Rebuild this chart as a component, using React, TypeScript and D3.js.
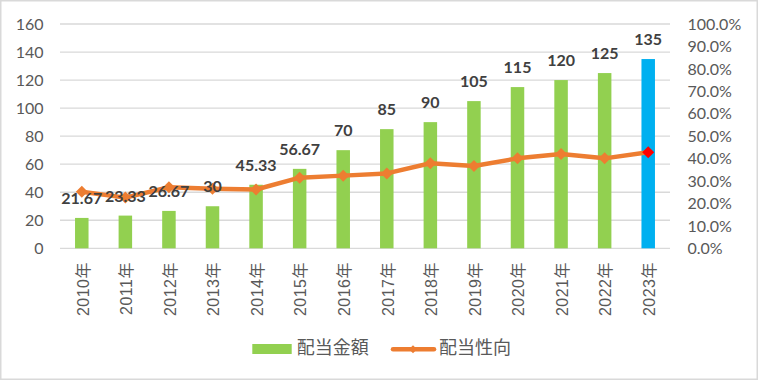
import React from "react";
import * as d3 from "d3";

const years = ["2010年","2011年","2012年","2013年","2014年","2015年","2016年","2017年","2018年","2019年","2020年","2021年","2022年","2023年"];
const amounts = [21.67, 23.33, 26.67, 30, 45.33, 56.67, 70, 85, 90, 105, 115, 120, 125, 135];
const amountLabels = ["21.67","23.33","26.67","30","45.33","56.67","70","85","90","105","115","120","125","135"];
const payout = [0.252, 0.226, 0.272, 0.265, 0.262, 0.315, 0.324, 0.334, 0.379, 0.367, 0.401, 0.420, 0.401, 0.428];
const leftTicks = [0, 20, 40, 60, 80, 100, 120, 140, 160];
const rightTicks = [0, 0.1, 0.2, 0.3, 0.4, 0.5, 0.6, 0.7, 0.8, 0.9, 1.0];
const seriesNames = ["配当金額", "配当性向"];

const W = 758, H = 380;
const plotL = 60, plotR = 670, plotT = 24, plotB = 248.3;
const green = "#92D050", blue = "#00B0F0", orange = "#ED7D31", red = "#FF0000";
const numFont = "Lato, 'Open Sans', sans-serif";
const cjkFont = "'Liberation Sans', 'Noto Sans CJK JP', sans-serif";

export default function App() {
  const x = d3.scalePoint<string>().domain(years).range([plotL, plotR]).padding(0.5);
  const yL = d3.scaleLinear().domain([0, 160]).range([plotB, plotT]);
  const yR = d3.scaleLinear().domain([0, 1]).range([plotB, plotT]);
  const barW = 13.5;
  const line = d3.line<number>().x((_, i) => x(years[i])!).y((d) => yR(d));
  const pctFmt = d3.format(".1%");
  const diamond = (cx: number, cy: number, r: number) =>
    `M${cx},${cy - r}L${cx + r},${cy}L${cx},${cy + r}L${cx - r},${cy}Z`;

  return (
    <svg width={W} height={H} style={{ position: "absolute", left: 0, top: 0, background: "#fff" }}>
      <rect x={0.75} y={0.75} width={W - 1.5} height={H - 1.5} fill="#fff" stroke="#D9D9D9" strokeWidth={1.5} />
      {leftTicks.map((t) => (
        <line key={"g" + t} x1={plotL} x2={plotR} y1={yL(t)} y2={yL(t)} stroke="#D9D9D9" strokeWidth={1.3} />
      ))}
      {leftTicks.map((t) => (
        <text key={"l" + t} x={43.5} y={yL(t)} dy="0.36em" textAnchor="end" fontFamily={numFont} fontSize={16} fill="#595959">
          {t}
        </text>
      ))}
      {rightTicks.map((t) => (
        <text key={"r" + t} x={687.5} y={yR(t)} dy="0.36em" textAnchor="start" fontFamily={numFont} fontSize={16} fill="#595959">
          {pctFmt(t)}
        </text>
      ))}
      {amounts.map((v, i) => (
        <rect key={"b" + i} x={x(years[i])! - barW / 2} y={yL(v)} width={barW} height={plotB - yL(v)}
          fill={i === amounts.length - 1 ? blue : green} />
      ))}
      <path d={line(payout) || ""} fill="none" stroke={orange} strokeWidth={4.5} strokeLinejoin="round" />
      {payout.map((v, i) => (
        <path key={"m" + i} d={diamond(x(years[i])!, yR(v), 6)} fill={i === payout.length - 1 ? red : orange} />
      ))}
      {amounts.map((v, i) => (
        <text key={"dl" + i} x={x(years[i])!} y={yL(v) - 14} textAnchor="middle" fontFamily={numFont}
          fontWeight="bold" fontSize={16} fill="#404040">
          {amountLabels[i]}
        </text>
      ))}
      {years.map((yr) => (
        <text key={"x" + yr} transform={`translate(${x(yr)! + 1},262) rotate(-90)`} textAnchor="end"
          dy="0.36em" fontFamily={cjkFont} fontSize={16} fill="#595959" letterSpacing={0.5}>
          {yr}
        </text>
      ))}
      <rect x={252.3} y={344} width={39.4} height={10} fill={green} />
      <text x={296.7} y={348} dy="0.36em" fontFamily="'Noto Sans CJK JP', sans-serif" fontSize={18} fill="#595959">
        {seriesNames[0]}
      </text>
      <line x1={393} x2={434} y1={349.3} y2={349.3} stroke={orange} strokeWidth={4.5} strokeLinecap="round" />
      <path d={diamond(413, 349.3, 4)} fill={orange} />
      <text x={439} y={348} dy="0.36em" fontFamily="'Noto Sans CJK JP', sans-serif" fontSize={18} fill="#595959">
        {seriesNames[1]}
      </text>
    </svg>
  );
}
